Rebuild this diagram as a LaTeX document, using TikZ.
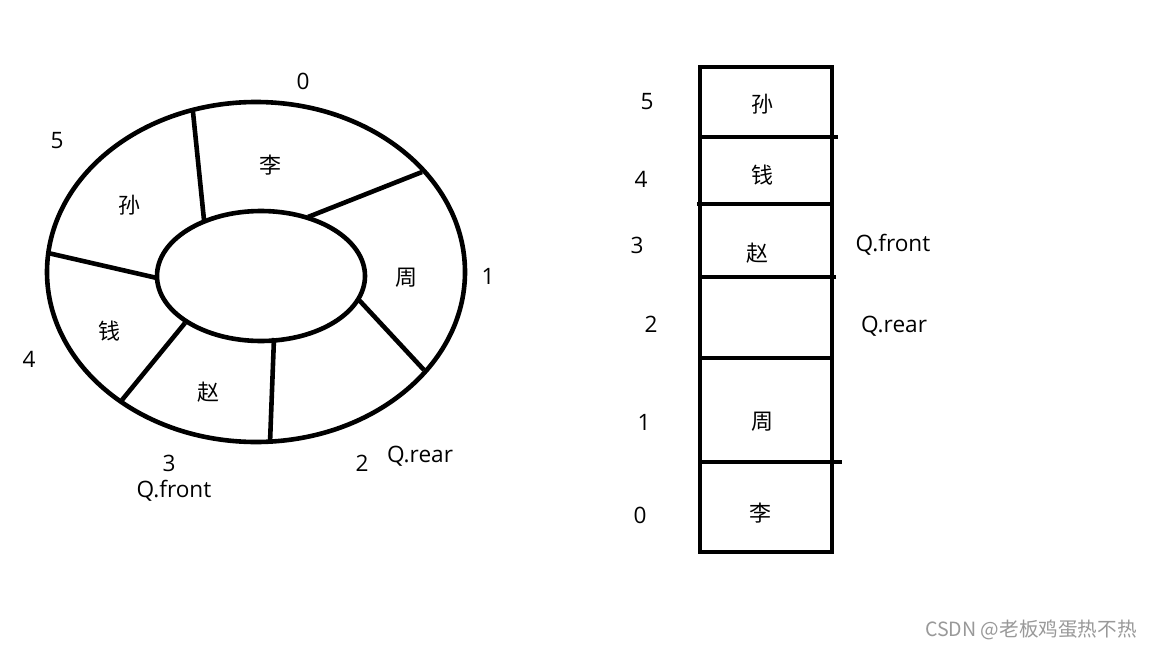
\documentclass[tikz,border=0pt]{standalone}
\usepackage{fontspec}
\setmainfont{Open Sans}
\newfontfamily\cjk{Noto Sans CJK SC}
\begin{document}
\begin{tikzpicture}[x=0.5pt,y=-0.5pt,
  thick line/.style={line width=2.3pt},
  lbl/.style={font=\fontsize{11.3}{13}\selectfont, inner sep=0pt},
  cj/.style={font=\cjk\fontsize{11}{13}\selectfont, inner sep=0pt},
  wm/.style={font=\cjk\fontsize{9.8}{11}\selectfont, text=black!40, inner sep=0pt}]
\useasboundingbox (0,0) rectangle (1152,648);
\fill[white] (0,0) rectangle (1152,648);
% ring
\draw[thick line] (256,272) ellipse [x radius=209, y radius=170];
\draw[thick line] (261,276) ellipse [x radius=104, y radius=65];
\coordinate (s1a) at (193,112); \coordinate (s1b) at (204,220);
\coordinate (s2a) at (422,172); \coordinate (s2b) at (308,217);
\coordinate (s3a) at (359,300); \coordinate (s3b) at (424,370);
\coordinate (s4a) at (274,338); \coordinate (s4b) at (270,443);
\coordinate (s5a) at (185,323); \coordinate (s5b) at (122,400);
\coordinate (s6a) at (48,253);  \coordinate (s6b) at (157,278);
\draw[thick line] (s1a) -- (s1b);
\draw[thick line] (s2a) -- (s2b);
\draw[thick line] (s3a) -- (s3b);
\draw[thick line] (s4a) -- (s4b);
\draw[thick line] (s5a) -- (s5b);
\draw[thick line] (s6a) -- (s6b);
\node[cj] (r0) at (270,165) {李};
\node[cj] (r5) at (129,205) {孙};
\node[cj] (r1) at (406,278) {周};
\node[cj] (r4) at (109,331) {钱};
\node[cj] (r3) at (208,392) {赵};
\node[lbl] (n0) at (303,81) {0};
\node[lbl] (n5) at (57,141) {5};
\node[lbl] (n1) at (488,276) {1};
\node[lbl] (n4) at (29,359) {4};
\node[lbl] (n3) at (169,463) {3};
\node[lbl] (qf) at (174,491) {Q.front};
\node[lbl] (n2) at (362,463) {2};
\node[lbl] (qr) at (420,456) {Q.rear};
% array
\draw[thick line] (700,67) rectangle (832,552);
\coordinate (l1a) at (700,137); \coordinate (l1b) at (838,137);
\coordinate (l2a) at (697,204); \coordinate (l2b) at (832,204);
\coordinate (l3a) at (700,277); \coordinate (l3b) at (836,277);
\coordinate (l4a) at (700,358); \coordinate (l4b) at (832,358);
\coordinate (l5a) at (700,462); \coordinate (l5b) at (842,462);
\draw[thick line] (l1a) -- (l1b);
\draw[thick line] (l2a) -- (l2b);
\draw[thick line] (l3a) -- (l3b);
\draw[thick line] (l4a) -- (l4b);
\draw[thick line] (l5a) -- (l5b);
\node[cj] (a5) at (762,104) {孙};
\node[cj] (a4) at (762,175) {钱};
\node[cj] (a3) at (757,253) {赵};
\node[cj] (a1) at (762,422) {周};
\node[cj] (a0) at (760,513) {李};
\node[lbl] (i5) at (647,102) {5};
\node[lbl] (i4) at (641,179) {4};
\node[lbl] (i3) at (637,245) {3};
\node[lbl] (i2) at (651,324) {2};
\node[lbl] (i1) at (644,422) {1};
\node[lbl] (i0) at (640,515) {0};
\node[lbl] (aqf) at (893,245) {Q.front};
\node[lbl] (aqr) at (894,326) {Q.rear};
\node[wm] (wmk) at (1031,630) {CSDN @老板鸡蛋热不热};
\end{tikzpicture}
\end{document}
